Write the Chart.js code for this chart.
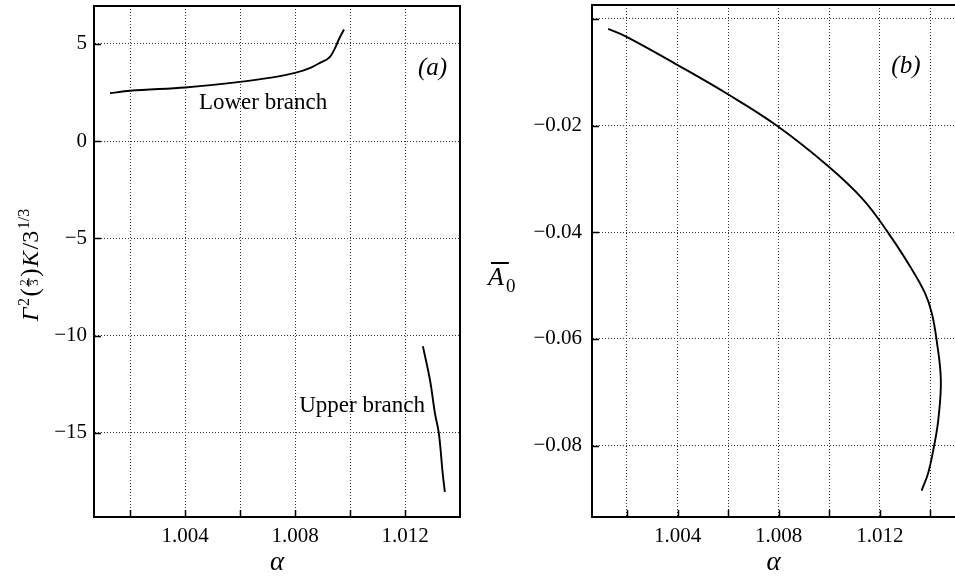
<!DOCTYPE html>
<html>
<head>
<meta charset="utf-8">
<script src="https://cdn.jsdelivr.net/npm/chart.js@4.4.0/dist/chart.umd.min.js"></script>
<style>
  html, body { margin: 0; padding: 0; background: #fff; }
  #wrap { position: relative; width: 955px; height: 576px; overflow: hidden; }
  #ca { position: absolute; left: 0; top: 0; }
  #cb { position: absolute; left: 480px; top: 0; }
</style>
</head>
<body>
<div id="wrap">
  <canvas id="ca" width="480" height="576"></canvas>
  <canvas id="cb" width="475" height="576"></canvas>
</div>
<script>
// (a) lower and upper branch
const lowerAlpha = [1.00127, 1.002, 1.004, 1.006, 1.007, 1.008, 1.0086, 1.00891, 1.00927, 1.00945, 1.00958, 1.00978];
const lowerK = [2.47, 2.59, 2.76, 3.05, 3.24, 3.51, 3.80, 4.03, 4.33, 4.77, 5.19, 5.74];
const upperAlpha = [1.01265, 1.01291, 1.01309, 1.01323, 1.01337, 1.01345];
const upperK = [-10.54, -12.29, -14.0, -15.01, -17.07, -18.03];

// (b) A0 against alpha
const bAlpha = [1.00126, 1.00199, 1.00397, 1.00601, 1.00792, 1.00996, 1.01134, 1.01233, 1.01319,
  1.01378, 1.01405, 1.01424, 1.01441, 1.01431, 1.01414, 1.01391, 1.01365];
const bA0 = [-0.00188, -0.00338, -0.00857, -0.01419, -0.02001, -0.02764, -0.03388, -0.04013, -0.04639,
  -0.05138, -0.05513, -0.06013, -0.06764, -0.07514, -0.08014, -0.08513, -0.08845];

// ticks / gridlines
const gridAlpha = [1.002, 1.004, 1.006, 1.008, 1.010, 1.012, 1.014];
const labelAlpha = [1.004, 1.008, 1.012];
const gridK = [5, 0, -5, -10, -15];
const gridA0 = [0, -0.02, -0.04, -0.06, -0.08];

const SERIF = '"Liberation Serif", "DejaVu Serif", serif';

function pts(xs, ys) {
  return xs.map((x, i) => ({ x: x, y: ys[i] }));
}

function fmtK(v) {
  return v < 0 ? '\u2212' + Math.abs(v) : String(v);
}
function fmtA0(v) {
  if (v === 0) return '';
  return '\u2212' + Math.abs(v).toFixed(2);
}
function fmtAlpha(v) {
  return labelAlpha.some(l => Math.abs(l - v) < 1e-9) ? v.toFixed(3) : '';
}

// draws a run of text pieces along a baseline, centred on 0
function drawRuns(ctx, runs, gap) {
  let w = 0;
  runs.forEach(r => {
    ctx.font = r.font;
    r.w = r.frac ? Math.max(...r.frac.map(s => ctx.measureText(s).width)) + 2 : ctx.measureText(r.t).width;
    w += r.w + gap;
  });
  w -= gap;
  let x = -w / 2;
  ctx.textAlign = 'left';
  ctx.textBaseline = 'alphabetic';
  runs.forEach(r => {
    ctx.font = r.font;
    if (r.frac) {
      const cx = x + r.w / 2;
      ctx.textAlign = 'center';
      ctx.fillText(r.frac[0], cx, -10.5);
      ctx.fillText(r.frac[1], cx, 0);
      ctx.fillRect(x, -9.8, r.w, 1.2);
      ctx.textAlign = 'left';
    } else {
      ctx.fillText(r.t, x, r.dy || 0);
    }
    x += r.w + gap;
  });
}

const decor = {
  id: 'decor',
  afterDraw(chart, args, opts) {
    const { ctx, chartArea: a, scales } = chart;
    ctx.save();
    ctx.strokeStyle = '#000';
    ctx.lineWidth = 2;
    ctx.beginPath();
    ctx.moveTo(a.left, a.top);
    ctx.lineTo(a.right, a.top);
    if (opts.rightBorder) ctx.lineTo(a.right, a.bottom);
    ctx.stroke();

    // short inward tick marks
    ctx.lineWidth = 1.5;
    ctx.beginPath();
    gridAlpha.forEach(v => {
      const px = Math.round(scales.x.getPixelForValue(v)) + 0.5;
      if (px > a.left + 2 && px < a.right - 2) {
        ctx.moveTo(px, a.bottom);
        ctx.lineTo(px, a.bottom - 7);
      }
    });
    opts.gridY.forEach(v => {
      const py = Math.round(scales.y.getPixelForValue(v)) + 0.5;
      ctx.moveTo(a.left, py);
      ctx.lineTo(a.left + 7, py);
    });
    ctx.stroke();

    ctx.fillStyle = '#000';
    ctx.textAlign = 'center';
    ctx.textBaseline = 'middle';
    (opts.notes || []).forEach(n => {
      ctx.font = n.font;
      ctx.fillText(n.text, scales.x.getPixelForValue(n.x), scales.y.getPixelForValue(n.y));
    });
    if (opts.yTitle) opts.yTitle(ctx);
    ctx.restore();
  }
};

function axes(o) {
  const grid = { color: '#333', lineWidth: 1, drawTicks: false };
  const border = { display: true, color: '#000', width: 2, dash: [1, 2] };
  return {
    x: {
      type: 'linear', min: o.xmin, max: o.xmax,
      afterBuildTicks: s => { s.ticks = gridAlpha.map(v => ({ value: v })); },
      afterFit: s => { s.height = 59; s.paddingLeft = 0; s.paddingRight = 0; },
      grid: grid,
      border: border,
      ticks: {
        color: '#000', font: { family: SERIF, size: 21 }, padding: 7,
        maxRotation: 0, autoSkip: false, callback: v => fmtAlpha(v)
      },
      title: {
        display: true, text: '\u03b1', color: '#000',
        font: { family: SERIF, size: 27, style: 'italic', lineHeight: 1 },
        padding: { top: 0, bottom: 0 }
      }
    },
    y: {
      type: 'linear', min: o.ymin, max: o.ymax,
      afterBuildTicks: s => { s.ticks = o.gridY.map(v => ({ value: v })); },
      afterFit: s => { s.width = o.yWidth; s.paddingTop = 0; s.paddingBottom = 0; },
      grid: grid,
      border: border,
      ticks: {
        color: '#000', font: { family: SERIF, size: 21 }, padding: o.yPad,
        autoSkip: false, callback: v => o.fmtY(v)
      }
    }
  };
}

function lineSet(data, extra) {
  return Object.assign({
    type: 'line', data: data, pointRadius: 0, borderColor: '#000',
    borderWidth: 1.9, tension: 0.4, fill: false
  }, extra || {});
}

new Chart(document.getElementById('ca'), {
  type: 'line',
  data: {
    datasets: [
      lineSet(pts(lowerAlpha, lowerK), { cubicInterpolationMode: 'monotone' }),
      lineSet(pts(upperAlpha, upperK))
    ]
  },
  options: {
    responsive: false,
    animation: false,
    layout: { autoPadding: false, padding: { top: 6, right: 20, left: 0, bottom: 0 } },
    scales: axes({ xmin: 1.00069, xmax: 1.014, ymin: -19.32, ymax: 6.95, gridY: gridK, yWidth: 94, yPad: 7, fmtY: fmtK }),
    plugins: {
      legend: { display: false },
      tooltip: { enabled: false },
      decor: {
        rightBorder: true,
        gridY: gridK,
        notes: [
          { text: 'Lower branch', x: 1.00684, y: 1.95, font: '23px ' + SERIF },
          { text: 'Upper branch', x: 1.01044, y: -13.62, font: '23px ' + SERIF },
          { text: '(a)', x: 1.0130, y: 3.75, font: 'italic 25px ' + SERIF }
        ],
        yTitle: ctx => {
          ctx.translate(38, 265);
          ctx.rotate(-Math.PI / 2);
          drawRuns(ctx, [
            { t: '\u0393', font: 'italic 24px ' + SERIF },
            { t: '2', font: '16px ' + SERIF, dy: -9 },
            { t: '(', font: '25px ' + SERIF },
            { frac: ['2', '3'], font: '13px ' + SERIF },
            { t: ')', font: '25px ' + SERIF },
            { t: 'K', font: 'italic 24px ' + SERIF },
            { t: '/3', font: '24px ' + SERIF },
            { t: '1/3', font: '16px ' + SERIF, dy: -9 }
          ], 1.5);
        }
      }
    }
  },
  plugins: [decor]
});

new Chart(document.getElementById('cb'), {
  type: 'line',
  data: {
    datasets: [lineSet(pts(bAlpha, bA0))]
  },
  options: {
    responsive: false,
    animation: false,
    layout: { autoPadding: false, padding: { top: 5, right: 0, left: 0, bottom: 0 } },
    scales: axes({ xmin: 1.00062, xmax: 1.01497, ymin: -0.0934, ymax: 0.0026, gridY: gridA0, yWidth: 112, yPad: 10, fmtY: fmtA0 }),
    plugins: {
      legend: { display: false },
      tooltip: { enabled: false },
      decor: {
        rightBorder: false,
        gridY: gridA0,
        notes: [
          { text: '(b)', x: 1.01303, y: -0.00894, font: 'italic 25px ' + SERIF }
        ],
        yTitle: ctx => {
          ctx.textAlign = 'left';
          ctx.textBaseline = 'alphabetic';
          ctx.font = 'italic 26px ' + SERIF;
          ctx.fillText('A', 8, 285);
          const wA = ctx.measureText('A').width;
          ctx.fillRect(11, 262, wA + 2, 2);
          ctx.font = '19px ' + SERIF;
          ctx.fillText('0', 8 + wA + 2, 292);
        }
      }
    }
  },
  plugins: [decor]
});
</script>
</body>
</html>
